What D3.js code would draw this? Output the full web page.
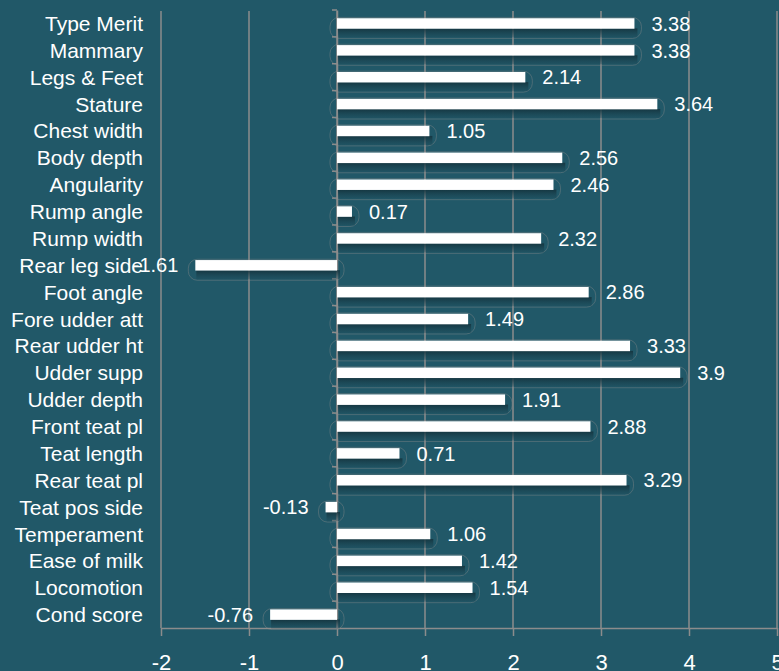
<!DOCTYPE html>
<html>
<head>
<meta charset="utf-8">
<script src="https://cdnjs.cloudflare.com/ajax/libs/d3/7.8.5/d3.min.js"></script>
<style>
  html, body { margin: 0; padding: 0; background: #215868; overflow: hidden; }
  svg { display: block; font-family: "Liberation Sans", Arial, sans-serif; }
</style>
</head>
<body>
<svg id="chart"></svg>
<script>
var categories = ["Type Merit", "Mammary", "Legs & Feet", "Stature", "Chest width",
  "Body depth", "Angularity", "Rump angle", "Rump width", "Rear leg side",
  "Foot angle", "Fore udder att", "Rear udder ht", "Udder supp", "Udder depth",
  "Front teat pl", "Teat length", "Rear teat pl", "Teat pos side", "Temperament",
  "Ease of milk", "Locomotion", "Cond score"];
var values = [3.38, 3.38, 2.14, 3.64, 1.05, 2.56, 2.46, 0.17, 2.32, -1.61,
  2.86, 1.49, 3.33, 3.9, 1.91, 2.88, 0.71, 3.29, -0.13, 1.06,
  1.42, 1.54, -0.76];
var xTicks = [-2, -1, 0, 1, 2, 3, 4, 5];

var width = 779, height = 671;
var gridColor = "#8c8c8c";

var data = categories.map(function(c, i) { return {name: c, value: values[i]}; });

var svg = d3.select("#chart")
    .attr("width", width)
    .attr("height", height);

var x = d3.scaleLinear()
    .domain([-2, 5])
    .range([161, 777]);

var y = d3.scaleBand()
    .domain(categories)
    .range([10, 628]);

// vertical gridlines
svg.append("g").selectAll("line")
    .data(xTicks)
  .enter().append("line")
    .attr("x1", function(d) { return x(d); })
    .attr("x2", function(d) { return x(d); })
    .attr("y1", 11)
    .attr("y2", 628)
    .style("stroke", gridColor)
    .style("stroke-width", 1.5);

// bottom axis
var xAxis = d3.axisBottom(x)
    .tickValues(xTicks)
    .tickFormat(function(d) { return String(d); })
    .tickSize(8)
    .tickSizeOuter(0);
var gx = svg.append("g")
    .attr("transform", "translate(0,628)")
    .call(xAxis);
gx.select(".domain").style("stroke", gridColor).style("stroke-width", 1.5);
gx.selectAll(".tick line").style("stroke", gridColor).style("stroke-width", 1.5);
gx.selectAll(".tick text")
    .style("fill", "#fff")
    .style("font-size", "22px")
    .attr("y", 42)
    .attr("dy", 0);

// category axis at zero
var yAxis = d3.axisLeft(y).tickSize(0).tickFormat("");
var gy = svg.append("g")
    .attr("transform", "translate(" + x(0) + ",0)")
    .call(yAxis);
gy.select(".domain").style("stroke", gridColor).style("stroke-width", 1.5);

svg.append("g").selectAll("line")
    .data(categories)
  .enter().append("line")
    .attr("x1", x(0) - 5)
    .attr("x2", x(0))
    .attr("y1", function(d) { return y(d); })
    .attr("y2", function(d) { return y(d); })
    .style("stroke", gridColor)
    .style("stroke-width", 1.5);

// shadow gradient
var defs = svg.append("defs");
var grad = defs.append("linearGradient")
    .attr("id", "shadow")
    .attr("x1", 0).attr("y1", 0).attr("x2", 0).attr("y2", 1);
grad.append("stop").attr("offset", "0%").attr("stop-color", "#14333d").attr("stop-opacity", 0.9);
grad.append("stop").attr("offset", "100%").attr("stop-color", "#1b4654").attr("stop-opacity", 0.3);

var rows = svg.append("g").selectAll("g.row")
    .data(data)
  .enter().append("g")
    .attr("class", "row")
    .attr("transform", function(d) { return "translate(0," + (y(d.name) + y.bandwidth() / 2) + ")"; });

// faint rounded outline
rows.append("rect")
    .attr("x", function(d) { return Math.min(x(0), x(d.value)) - 7; })
    .attr("width", function(d) { return Math.abs(x(d.value) - x(0)) + 14; })
    .attr("y", -6)
    .attr("height", 21)
    .attr("rx", 9)
    .style("fill", "none")
    .style("stroke", gridColor)
    .style("stroke-opacity", 0.4)
    .style("stroke-width", 1);

// shadow under bar
rows.append("rect")
    .attr("x", function(d) { return Math.min(x(0), x(d.value)) + 1; })
    .attr("width", function(d) { return Math.abs(x(d.value) - x(0)) + 2; })
    .attr("y", 5)
    .attr("height", 9)
    .style("fill", "url(#shadow)");

// bar
rows.append("rect")
    .attr("x", function(d) { return Math.min(x(0), x(d.value)); })
    .attr("width", function(d) { return Math.abs(x(d.value) - x(0)); })
    .attr("y", -5.2)
    .attr("height", 10.5)
    .style("fill", "#fff");

// value labels
rows.append("text")
    .attr("x", function(d) { return d.value < 0 ? x(d.value) - 17 : x(d.value) + 17; })
    .attr("dy", "0.36em")
    .style("text-anchor", function(d) { return d.value < 0 ? "end" : "start"; })
    .style("fill", "#fff")
    .style("font-size", "20px")
    .text(function(d) { return d.value; });

// category labels
svg.append("g").selectAll("text")
    .data(categories)
  .enter().append("text")
    .attr("x", 143)
    .attr("y", function(d) { return y(d) + y.bandwidth() / 2; })
    .attr("dy", "0.36em")
    .style("text-anchor", "end")
    .style("fill", "#fff")
    .style("font-size", "21px")
    .text(function(d) { return d; });
</script>
</body>
</html>
